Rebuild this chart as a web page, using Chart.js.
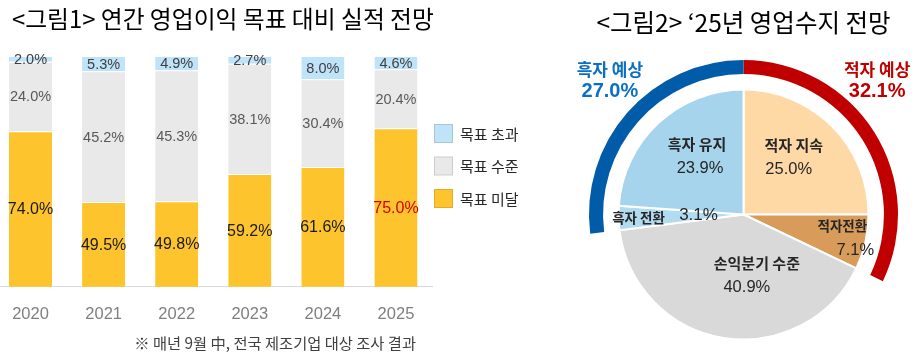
<!DOCTYPE html>
<html>
<head>
<meta charset="utf-8">
<script src="https://cdn.jsdelivr.net/npm/chart.js@4.4.1/dist/chart.umd.min.js"></script>
<style>
    html, body { margin: 0; padding: 0; background: #fff; width: 913px; height: 358px; overflow: hidden; }
    canvas { position: absolute; }
    #bar-canvas { left: -6px; top: 0; }
    #ring-canvas { left: 572px; top: -40px; }
    #pie-canvas { left: 572px; top: 0; }
</style>
</head>
<body>
<canvas id="bar-canvas" width="540" height="358"></canvas>
<canvas id="ring-canvas" width="341" height="438"></canvas>
<canvas id="pie-canvas" width="341" height="358"></canvas>
<script>
// ---- data: figure 1 (연간 영업이익 목표 대비 실적) ----
const years = ['2020', '2021', '2022', '2023', '2024', '2025'];
const belowTarget = [74.0, 49.5, 49.8, 59.2, 61.6, 75.0];   // 목표 미달
const onTarget = [24.0, 45.2, 45.3, 38.1, 30.4, 20.4];      // 목표 수준
const aboveTarget = [2.0, 5.3, 4.9, 2.7, 8.0, 4.6];         // 목표 초과
const seriesNames = ['목표 미달', '목표 수준', '목표 초과'];
const axisFloor = 20.2;     // the original axis does not start at 0
const highlightYear = '2025';

// ---- data: figure 2 ('25년 영업수지 전망) ----
const sliceNames = ['적자 지속', '적자전환', '손익분기 수준', '흑자 전환', '흑자 유지'];
const sliceValues = [25.0, 7.1, 40.9, 3.1, 23.9];
const outlookNames = ['적자 예상', '손익분기', '흑자 예상'];
const outlookValues = [32.1, 40.9, 27.0];

const KR = "'Noto Sans CJK KR', sans-serif";
const NUM = "'Liberation Sans', Arial, 'Noto Sans CJK KR', sans-serif";

const barColors = ['#FEC42E', '#E9E9E9', '#BFE3F8'];
const barTextColors = ['#1a1a1a', '#595959', '#404040'];

const barLabels = {
    id: 'barLabels',
    afterDatasetsDraw(chart) {
        const {ctx, chartArea} = chart;
        ctx.save();
        ctx.textAlign = 'center';
        ctx.textBaseline = 'middle';
        chart.data.datasets.forEach((ds, di) => {
            chart.getDatasetMeta(di).data.forEach((bar, i) => {
                const {x, y, base} = bar.getProps(['x', 'y', 'base'], true);
                const bottom = Math.min(base, chartArea.bottom);
                const top = Math.max(y, chartArea.top);
                ctx.font = (di === 0 ? '16px ' : '14.5px ') + NUM;
                let color = barTextColors[di];
                if (di === 0 && chart.data.labels[i] === highlightYear) color = '#D40000';
                ctx.fillStyle = color;
                ctx.fillText(ds.data[i].toFixed(1) + '%', x, (top + bottom) / 2 + 1);
            });
        });
        ctx.restore();
    },
    afterDraw(chart) {
        const ctx = chart.ctx;
        ctx.save();
        // title
        ctx.fillStyle = '#000';
        ctx.textBaseline = 'middle';
        ctx.textAlign = 'left';
        ctx.font = '23.8px ' + KR;
        ctx.fillText('<그림1> 연간 영업이익 목표 대비 실적 전망', 18, 19);
        // legend, top item first
        const order = [2, 1, 0];
        order.forEach((di, k) => {
            const ds = chart.data.datasets[di];
            const top = 124 + k * 32.5;
            ctx.fillStyle = ds.backgroundColor;
            ctx.fillRect(440, top, 19, 19);
            ctx.strokeStyle = 'rgba(0,0,0,0.12)';
            ctx.lineWidth = 1;
            ctx.strokeRect(440.5, top + 0.5, 18, 18);
            ctx.fillStyle = '#262626';
            ctx.font = '15px ' + KR;
            ctx.fillText(ds.label, 466, top + 10);
        });
        // footnote
        ctx.textAlign = 'right';
        ctx.fillStyle = '#404040';
        ctx.font = '15.3px ' + KR;
        ctx.fillText('※ 매년 9월 中, 전국 제조기업 대상 조사 결과', 422, 343);
        ctx.restore();
    }
};

new Chart(document.getElementById('bar-canvas'), {
    type: 'bar',
    data: {
        labels: years,
        datasets: [belowTarget, onTarget, aboveTarget].map((vals, i) => ({
            label: seriesNames[i],
            data: vals,
            backgroundColor: barColors[i],
            borderColor: '#fff',
            borderWidth: {top: 1, left: 0, right: 0, bottom: 0},
            borderSkipped: 'start',
            barPercentage: 0.59,
            categoryPercentage: 1,
            clip: 0
        }))
    },
    options: {
        responsive: false,
        animation: false,
        layout: {padding: {left: 0, right: 101.5, top: 56, bottom: 16.5}},
        plugins: {legend: {display: false}, tooltip: {enabled: false}},
        scales: {
            x: {
                stacked: true,
                grid: {display: false, drawTicks: false},
                border: {display: true, color: '#D9D9D9', width: 1},
                ticks: {color: '#7F7F7F', padding: 17.5, font: {family: NUM, size: 16.5}}
            },
            y: {stacked: true, min: axisFloor, max: 100, display: false}
        }
    },
    plugins: [barLabels]
});

// ---- figure 2 ----
const outlookColors = ['#C00000', 'rgba(0,0,0,0)', '#005CA9'];
const outlookTextColors = ['#C00000', null, '#0B70C4'];

const ringLabels = {
    id: 'ringLabels',
    afterDraw(chart) {
        const ctx = chart.ctx;
        const ds = chart.data.datasets[0];
        ctx.save();
        ctx.textAlign = 'center';
        ctx.textBaseline = 'middle';
        chart.getDatasetMeta(0).data.forEach((arc, i) => {
            if (!outlookTextColors[i]) return;
            const {x, y, startAngle, endAngle} = arc.getProps(['x', 'y', 'startAngle', 'endAngle'], true);
            const mid = (startAngle + endAngle) / 2;
            const side = Math.cos(mid) >= 0 ? 1 : -1;
            const a = -Math.PI / 2 + side * Math.PI / 4;
            const px = x + Math.cos(a) * 189;
            const py = y + Math.sin(a) * 189;
            ctx.fillStyle = outlookTextColors[i];
            ctx.font = 'bold 17px ' + KR;
            ctx.fillText(chart.data.labels[i], px, py - 11);
            ctx.font = 'bold 20px ' + NUM;
            ctx.fillText(ds.data[i].toFixed(1) + '%', px, py + 11);
        });
        ctx.restore();
    }
};

new Chart(document.getElementById('ring-canvas'), {
    type: 'doughnut',
    data: {
        labels: outlookNames,
        datasets: [{
            data: outlookValues,
            backgroundColor: outlookColors,
            borderWidth: 0
        }]
    },
    options: {
        responsive: false,
        animation: false,
        radius: 154.5,
        cutout: '90.9%',
        layout: {padding: {left: 2, top: 98, bottom: 27}},
        plugins: {legend: {display: false}, tooltip: {enabled: false}}
    },
    plugins: [ringLabels]
});

const sliceColors = ['#FFD9A5', '#D99B5A', '#D9D9D9', '#B2DBF0', '#A5D4EC'];
// where each slice's text sits (fraction of radius, angle nudge in degrees)
const sliceLabelLayout = [
    {rf: 0.6, da: -5, nameDx: 2, valueDx: -3, nameSize: 15},
    {rf: 0.86, da: 0, nameDx: -6, valueDx: 7, nameSize: 13.5},
    {rf: 0.49, da: -17, nameDx: 5, valueDx: -5, nameSize: 15},
    {row: true, nameRf: 0.84, valueRf: 0.36, nameSize: 13.5},
    {rf: 0.59, da: 5, nameDx: -1, valueDx: 2, nameSize: 15}
];

const sliceLabels = {
    id: 'sliceLabels',
    afterDatasetsDraw(chart) {
        const ctx = chart.ctx;
        const ds = chart.data.datasets[0];
        ctx.save();
        ctx.textAlign = 'center';
        ctx.textBaseline = 'middle';
        ctx.fillStyle = '#262626';
        chart.getDatasetMeta(0).data.forEach((arc, i) => {
            const {x, y, startAngle, endAngle, outerRadius} =
                arc.getProps(['x', 'y', 'startAngle', 'endAngle', 'outerRadius'], true);
            const lay = sliceLabelLayout[i];
            const valueText = ds.data[i].toFixed(1) + '%';
            const mid = (startAngle + endAngle) / 2 + (lay.da || 0) * Math.PI / 180;
            if (lay.row) {
                ctx.font = 'bold ' + lay.nameSize + 'px ' + KR;
                ctx.fillText(chart.data.labels[i], x + Math.cos(mid) * outerRadius * lay.nameRf,
                    y + Math.sin(mid) * outerRadius * lay.nameRf);
                ctx.font = '17px ' + NUM;
                ctx.fillText(valueText, x + Math.cos(mid) * outerRadius * lay.valueRf,
                    y + Math.sin(mid) * outerRadius * lay.valueRf);
                return;
            }
            const px = x + Math.cos(mid) * outerRadius * lay.rf;
            const py = y + Math.sin(mid) * outerRadius * lay.rf;
            ctx.font = 'bold ' + lay.nameSize + 'px ' + KR;
            ctx.fillText(chart.data.labels[i], px + lay.nameDx, py - 12);
            ctx.font = '16.5px ' + NUM;
            ctx.fillText(valueText, px + lay.valueDx, py + 12);
        });
        ctx.restore();
    }
};

new Chart(document.getElementById('pie-canvas'), {
    type: 'pie',
    data: {
        labels: sliceNames,
        datasets: [{
            data: sliceValues,
            backgroundColor: sliceColors,
            borderColor: '#fff',
            borderWidth: 2
        }]
    },
    options: {
        responsive: false,
        animation: false,
        radius: 125,
        layout: {padding: {left: 2, top: 0, bottom: 0}},
        plugins: {
            legend: {display: false},
            tooltip: {enabled: false},
            title: {
                display: true,
                text: '<그림2> ‘25년 영업수지 전망',
                color: '#000',
                font: {family: KR, size: 24.5, weight: 'normal'},
                padding: {top: 7.7, bottom: 33.9}
            }
        }
    },
    plugins: [sliceLabels]
});
</script>
</body>
</html>
